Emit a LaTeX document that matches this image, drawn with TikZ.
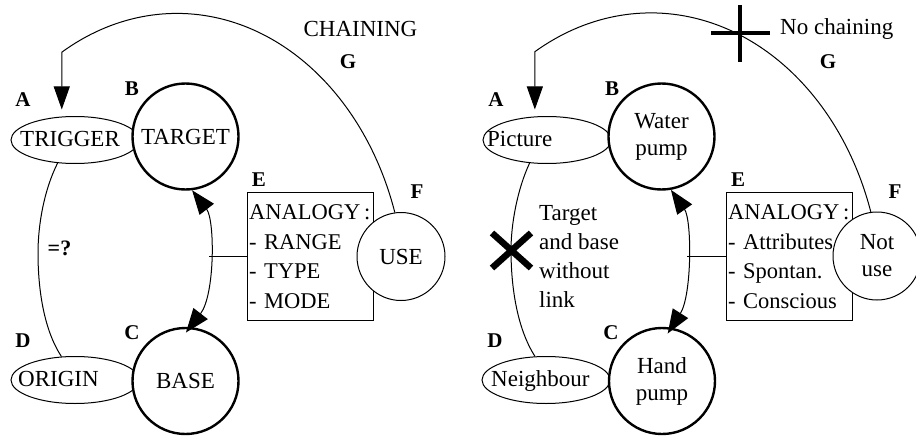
\documentclass[tikz,border=0pt]{standalone}
\usepackage{fontspec}
\setmainfont{Liberation Serif}
\usetikzlibrary{arrows.meta,shapes.geometric}

\tikzset{
  every node/.style={font=\fontsize{23}{29.5}\selectfont, inner sep=0pt},
  lbl/.style={font=\fontsize{21}{24}\selectfont\bfseries},
  concept/.style={ellipse, draw, line width=1pt, fill=white,
    minimum width=128pt, minimum height=47pt},
  mainc/.style={circle, draw, line width=2.4pt, fill=white,
    minimum size=106pt, align=center, font=\fontsize{23}{27}\selectfont},
  usec/.style={circle, draw, line width=1pt, fill=white,
    minimum size=88pt, align=center, font=\fontsize{23}{27}\selectfont},
  analogy/.style={draw, line width=1.1pt, anchor=north west,
    minimum width=126pt, minimum height=128pt, text width=123pt,
    align=left, inner xsep=1.5pt, font=\fontsize{22.5}{29.5}\selectfont},
  link/.style={line width=1pt},
  headtip/.style={-{Triangle[length=23pt,width=16pt]}},
  bothtips/.style={{Triangle[length=24pt,width=18pt]}-{Triangle[length=24pt,width=18pt]}},
  strike/.style={line width=#1},
}

\begin{document}
\begin{tikzpicture}[x=1pt, y=-1pt]
\useasboundingbox (0,0) rectangle (916,436);

% ---------------- left scheme ----------------
\node[concept] (A) at (75,140) {};
\node[concept] (D) at (75,380) {};
\node[anchor=base west] (Atxt) at (20,146) {TRIGGER};
\node[anchor=base west] (Dtxt) at (18,386) {ORIGIN};
\node[mainc] (B) at (185.5,136.5) {TARGET};
\node[mainc] (C) at (185.5,381) {BASE};
\node[analogy] (E) at (247,192) {ANALOGY\,:\\- RANGE\\- TYPE\\- MODE};
\node[usec] (F) at (401,256.5) {USE};

\node[lbl] (lA) at (23,100) {A};
\node[lbl] (lB) at (132,89) {B};
\node[lbl] (lC) at (132,333) {C};
\node[lbl] (lD) at (23,341) {D};
\node[lbl] (lE) at (259,180) {E};
\node[lbl] (lF) at (417,192) {F};
\node[lbl] (lG) at (348,62) {G};
\node (chain) at (360.5,28.5) {CHAINING};
\node[lbl, font=\fontsize{22}{24}\selectfont\bfseries] (eq) at (59.5,248) {=?};

% chaining loop back to the trigger
\draw[link, headtip, shorten >=6.5pt] (F.98)
  arc[start angle=17.7, end angle=120.2, x radius=228.8pt, y radius=286pt]
  coordinate (cA) -- (cA |- A.north);
% trigger and origin
\draw[link] (A.233) .. controls (44,190) and (38,225) .. (38,253)
  .. controls (38,290) and (44,330) .. (D.120);
% target and base
\draw[link, bothtips, shorten >=-7pt] (B.277)
  .. controls (215,220) and (215,295) .. node[coordinate, pos=0.5] (bcmid) {} (C.85);
\draw[link] (E.west) -- (E.west -| bcmid);

% ---------------- right scheme ----------------
\node[concept] (A2) at (547,140) {};
\node[concept] (D2) at (546,380) {};
\node[anchor=base west] (A2txt) at (487,146) {Picture};
\node[anchor=base west] (D2txt) at (491,386) {Neighbour};
\node[mainc] (B2) at (661.5,136.5) {Water\\pump};
\node[mainc] (C2) at (662,381) {Hand\\pump};
\node[analogy] (E2) at (726,192) {ANALOGY\,:\\- Attributes\\- Spontan.\\- Conscious};
\node[usec] (F2) at (877,256) {Not\\use};

\node[lbl] (lA2) at (496,100) {A};
\node[lbl] (lB2) at (612,89) {B};
\node[lbl] (lC2) at (611,333) {C};
\node[lbl] (lD2) at (495,341) {D};
\node[lbl] (lE2) at (738,180) {E};
\node[lbl] (lF2) at (895,192) {F};
\node[lbl] (lG2) at (828,62) {G};
\node[anchor=base west] (nochain) at (780,35) {No chaining};
\node[anchor=north west, align=left, font=\fontsize{23}{29}\selectfont]
  (nolink) at (539,205) {Target\\and base\\without\\link};

% broken chaining loop
\draw[link, headtip, shorten >=6.5pt] (F2.98)
  arc[start angle=17.7, end angle=120.2, x radius=230.8pt, y radius=286pt]
  coordinate (cA2) -- (cA2 |- A2.north);
\draw[strike=4.5pt] (740,5) -- (740,62) (711,33) -- (770,33);
% picture and neighbour
\draw[link] (A2.233) .. controls (517,190) and (511,225) .. (511,250)
  .. controls (511,290) and (518,330) .. (D2.115);
\draw[strike=6.5pt] (492,233) -- (531,268) (531,233) -- (492,268);
% water pump and hand pump
\draw[link, bothtips, shorten >=-7pt] (B2.280)
  .. controls (692,220) and (692,295) .. node[coordinate, pos=0.5] (bcmid2) {} (C2.80);
\draw[link] (E2.west) -- (E2.west -| bcmid2);
\end{tikzpicture}
\end{document}
